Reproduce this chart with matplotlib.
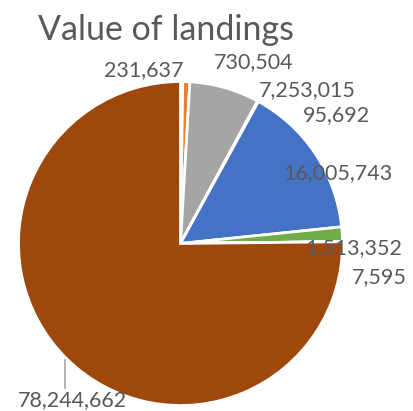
import matplotlib
matplotlib.use("Agg")
import matplotlib.pyplot as plt

# values of landings, in slice order (clockwise from 12 o'clock)
labels = ["231,637", "730,504", "7,253,015", "95,692",
          "16,005,743", "1,513,352", "7,595", "78,244,662"]
values = [231637, 730504, 7253015, 95692, 16005743, 1513352, 7595, 78244662]
colors = ["#4472C4", "#ED7D31", "#A5A5A5", "#FFC000",
          "#4472C4", "#70AD47", "#264478", "#9E480E"]

# label centres in pixels (as placed in the original)
label_px = [(144, 70), (254, 62), (307, 90), (336, 115),
            (338, 173), (354, 248), (379, 277), (72, 400)]

W, H = 413, 411
cx, cy, r = 180.5, 243.5, 162

plt.rcParams["font.family"] = ["Lato", "DejaVu Sans"]
fig = plt.figure(figsize=(W / 100, H / 100), dpi=100)
ax = fig.add_axes([(cx - r) / W, (H - cy - r) / H, 2 * r / W, 2 * r / H])

ax.pie(values, colors=colors, startangle=90, counterclock=False,
       wedgeprops=dict(edgecolor="white", linewidth=2.0))
ax.set_xlim(-1, 1)
ax.set_ylim(-1, 1)
ax.set_aspect("auto")

for lab, (px, py) in zip(labels, label_px):
    fig.text(px / W, 1 - py / H, lab, ha="center", va="center",
             fontsize=15.5, color="#595959")

# leader line for the big slice
fig.add_artist(plt.Line2D([65 / W, 65 / W], [1 - 360 / H, 1 - 388 / H],
                          color="#A6A6A6", linewidth=1.2))

fig.text(166 / W, 1 - 30 / H, "Value of landings", ha="center", va="center",
         fontsize=24.5, color="#595959")

fig.savefig("out.png", dpi=100)
